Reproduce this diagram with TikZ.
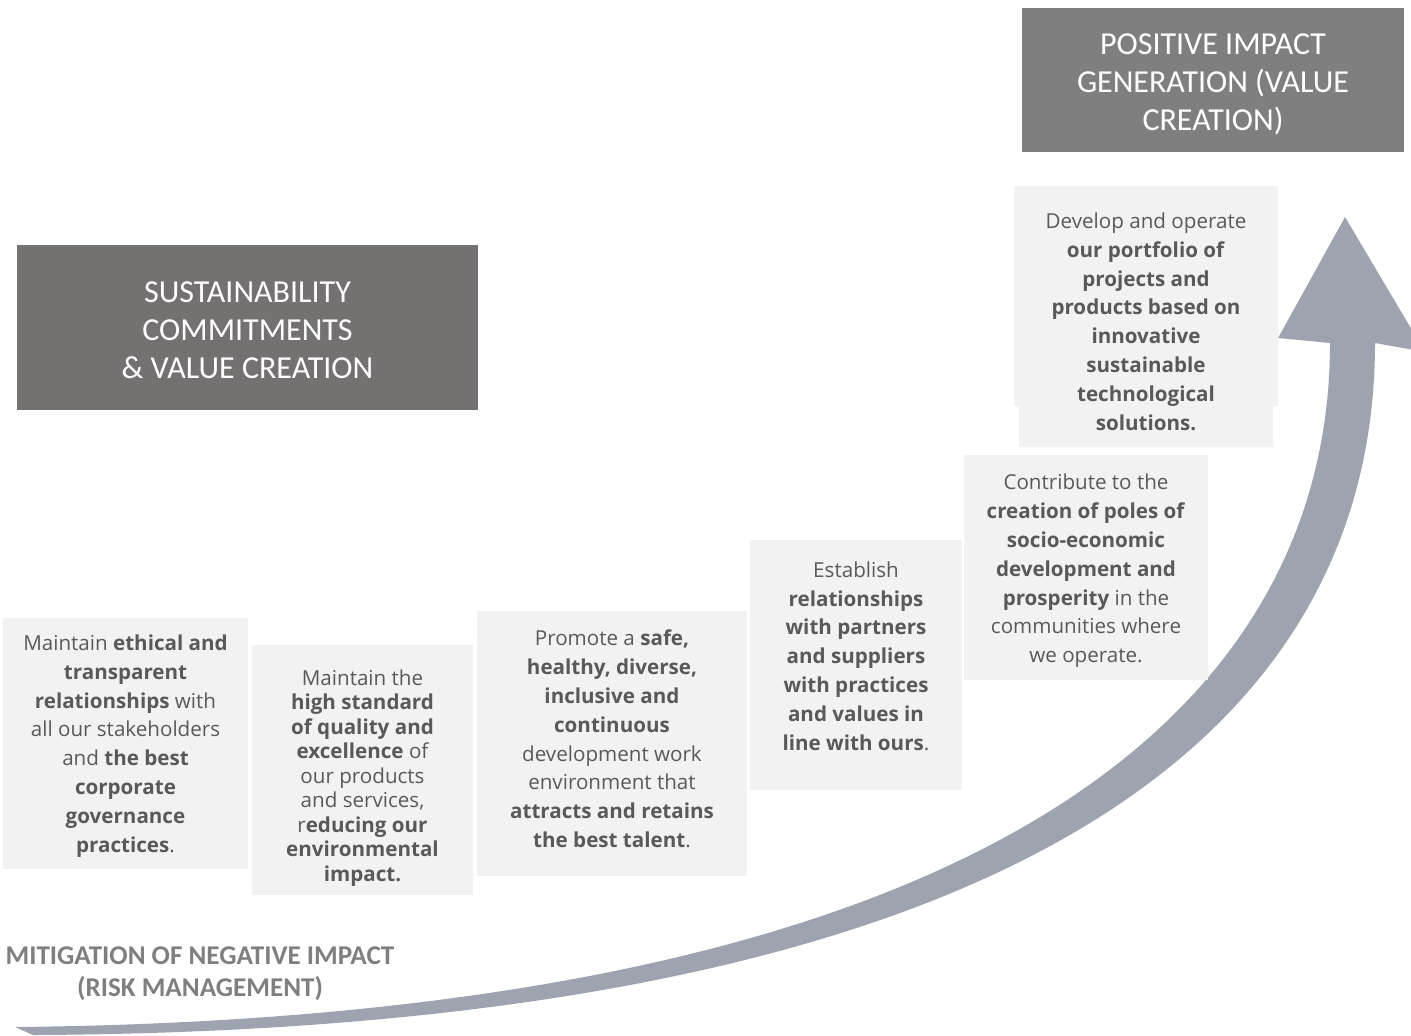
\documentclass[tikz,border=0pt]{standalone}
\usepackage{fontspec}
\setmainfont{Open Sans}
\newfontfamily\headfont{Carlito}

\definecolor{stepgray}{HTML}{F2F2F2}
\definecolor{stepink}{HTML}{595959}
\definecolor{titledark}{HTML}{767171}
\definecolor{titlegray}{HTML}{7F7F7F}
\definecolor{arrowgray}{HTML}{9EA3B0}

\tikzset{
  steptext/.style={text=stepink, align=center, inner sep=0pt,
    font=\fontsize{10.3}{14.4}\selectfont},
  titletext/.style={text=white, align=center, inner sep=0pt,
    font=\headfont\fontsize{16}{19}\selectfont}
}

\begin{document}
\begin{tikzpicture}[x=0.5pt, y=-0.5pt]
\useasboundingbox (0, 0) rectangle (1411, 1035);

% rising arrow
\begin{scope}
    \clip (0, 0) rectangle (1411, 1035);
    \fill [arrowgray] (15, 1027) .. controls (1015, 1017) and (1330, 693) .. (1330, 343)
        -- (1278, 338) -- (1345, 217) -- (1425, 352) -- (1375, 343)
        .. controls (1375, 723) and (1033, 1030) .. (33, 1035) -- cycle;
\end{scope}

% boxes
\fill [titledark] (17, 245) rectangle (478, 410);
\fill [titlegray] (1022, 8) rectangle (1404, 152);
\fill [stepgray] (3, 618) rectangle (248, 869);
\fill [stepgray] (252, 645) rectangle (473, 895);
\fill [stepgray] (477, 611) rectangle (747, 876);
\fill [stepgray] (750, 540) rectangle (962, 790);
\fill [stepgray] (964, 455) rectangle (1208, 680);
\fill [stepgray] (1014, 186) rectangle (1278, 406) (1019, 406) rectangle (1273, 447);

\begin{scope}[every node/.style={titletext}]
    \node (commitments) at (247.5, 330) {SUSTAINABILITY\\COMMITMENTS\\\& VALUE CREATION};
    \node (positive) at (1213, 84) {POSITIVE IMPACT\\GENERATION (VALUE\\CREATION)};
\end{scope}

\begin{scope}[every node/.style={steptext}]
    \node (ethics) at (125.5, 746) {Maintain \textbf{ethical and}\\\textbf{transparent}\\\textbf{relationships} with\\all our stakeholders\\and \textbf{the best}\\\textbf{corporate}\\\textbf{governance}\\\textbf{practices}.};
    \node (quality) at (362.5, 778) [font=\fontsize{10.3}{12.25}\selectfont] {Maintain the\\\textbf{high standard}\\\textbf{of quality and}\\\textbf{excellence} of\\our products\\and services,\\r\textbf{educing our}\\\textbf{environmental}\\\textbf{impact.}};
    \node (talent) at (612, 739) {Promote a \textbf{safe,}\\\textbf{healthy, diverse,}\\\textbf{inclusive and}\\\textbf{continuous}\\development work\\environment that\\\textbf{attracts and retains}\\\textbf{the best talent}.};
    \node (partners) at (856, 656) {Establish\\\textbf{relationships}\\\textbf{with partners}\\\textbf{and suppliers}\\\textbf{with practices}\\\textbf{and values in}\\\textbf{line with ours}.};
    \node (communities) at (1086, 571) {Contribute to the\\\textbf{creation of poles of}\\\textbf{socio-economic}\\\textbf{development and}\\\textbf{prosperity} in the\\communities where\\we operate.};
    \node (portfolio) at (1146, 321.5) {Develop and operate\\\textbf{our portfolio of}\\\textbf{projects and}\\\textbf{products based on}\\\textbf{innovative}\\\textbf{sustainable}\\\textbf{technological}\\\textbf{solutions.}};
\end{scope}

\node (mitigation) at (200, 974) [text=titlegray, align=center, font=\headfont\bfseries\fontsize{13.55}{16}\selectfont] {MITIGATION OF NEGATIVE IMPACT\\(RISK MANAGEMENT)};
\end{tikzpicture}
\end{document}
